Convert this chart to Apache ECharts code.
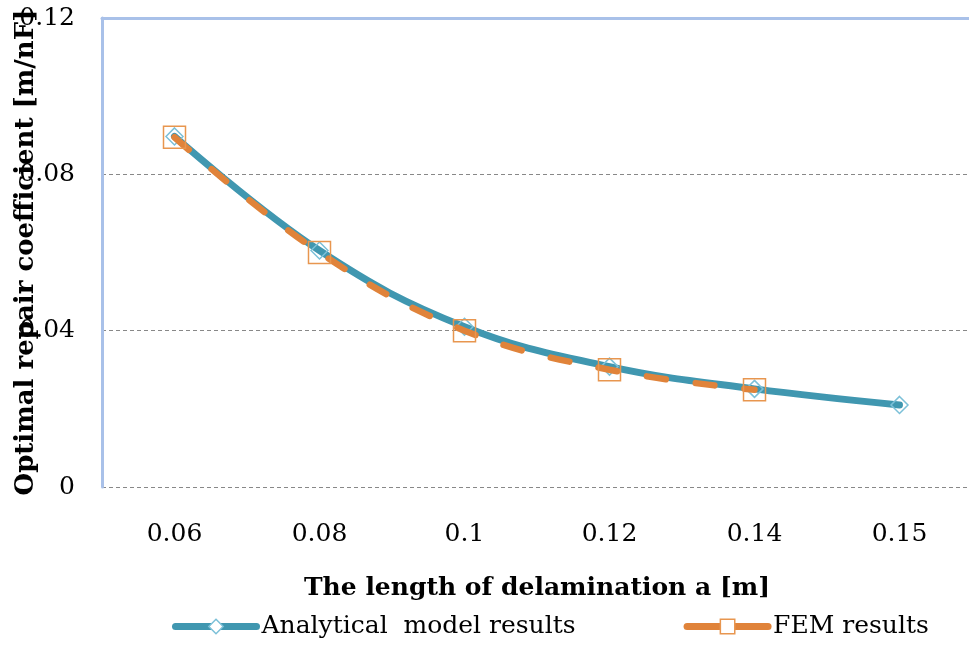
<!DOCTYPE html>
<html><head><meta charset="utf-8">
<script src="https://cdn.jsdelivr.net/npm/echarts@6/dist/echarts.min.js"></script>
<style>html,body{margin:0;padding:0;background:#fff}#c{width:969px;height:647px}</style>
</head><body><div id="c"></div>
<script>
const categories = ['0.06','0.08','0.1','0.12','0.14','0.15'];
const analytical = [0.0897, 0.0605, 0.0410, 0.0308, 0.0251, 0.0210];
const fem = [0.0895, 0.0600, 0.0400, 0.0300, 0.0249, null];
const yTicks = [0, 0.04, 0.08, 0.12];

const serif = '"DejaVu Serif","Liberation Serif",serif';
const chart = echarts.init(document.getElementById('c'));
chart.setOption({
  backgroundColor: '#fff',
  animation: false,
  grid: { left: 102, top: 18, width: 870, height: 469, outerBoundsMode: 'none', containLabel: false },
  legend: {
    left: 167, top: 609, itemWidth: 81, itemHeight: 18, itemGap: 108,
    textStyle: { fontFamily: serif, fontSize: 25, color: '#000' },
    data: [
      { name: 'Analytical  model results', lineStyle: { width: 7, type: 'solid', color: '#4097b0' },
        itemStyle: { color: '#fff', borderColor: '#7cc0d8', borderWidth: 1.5 } },
      { name: 'FEM results', lineStyle: { width: 7, type: 'solid', color: '#e0833a' },
        itemStyle: { color: '#fff', borderColor: '#e8964f', borderWidth: 1.5 } }
    ]
  },
  xAxis: [{
    type: 'category', data: categories, boundaryGap: true,
    axisLine: { show: false }, axisTick: { show: false },
    axisLabel: { fontFamily: serif, fontSize: 25, color: '#000', margin: 35 },
    name: 'The length of delamination a [m]', nameLocation: 'middle', nameGap: 89, nameMoveOverlap: false,
    nameTextStyle: { fontFamily: serif, fontSize: 25, fontWeight: 'bold', color: '#000' }
  }, {
    type: 'category', data: categories, position: 'top',
    axisLine: { show: true, lineStyle: { color: '#a9c1e9', width: 3 } },
    axisTick: { show: false }, axisLabel: { show: false }
  }],
  yAxis: {
    type: 'value', min: 0, max: 0.12, interval: 0.04,
    axisLine: { show: true, lineStyle: { color: '#a9c1e9', width: 3 } },
    axisTick: { show: false },
    axisLabel: { fontFamily: serif, fontSize: 25, color: '#000', margin: 27,
      formatter: v => { const t = yTicks.find(x => Math.abs(x - v) < 1e-9); return t === 0 ? '0' : String(+t.toFixed(2)); } },
    splitLine: { show: true, lineStyle: { color: '#888', type: [4, 3], width: 1 } },
    name: 'Optimal repair coefficient [m/nF]', nameLocation: 'middle', nameGap: 63, nameMoveOverlap: false,
    nameTextStyle: { fontFamily: serif, fontSize: 26, fontWeight: 'bold', color: '#000' }
  },
  series: [{
    name: 'Analytical  model results', type: 'line', data: analytical, smooth: 0.4,
    symbol: 'diamond', symbolSize: 17,
    lineStyle: { color: '#4097b0', width: 7, cap: 'round' },
    itemStyle: { color: 'rgba(255,255,255,0)', borderColor: '#7cc0d8', borderWidth: 1.5 },
    z: 2
  }, {
    name: 'FEM results', type: 'line', data: fem, smooth: 0.4,
    symbol: 'rect', symbolSize: 22,
    lineStyle: { color: '#e0833a', width: 6.5, type: [19, 30], cap: 'round' },
    itemStyle: { color: 'rgba(255,255,255,0)', borderColor: '#e8964f', borderWidth: 1.5 },
    z: 3
  }]
});
</script></body></html>
